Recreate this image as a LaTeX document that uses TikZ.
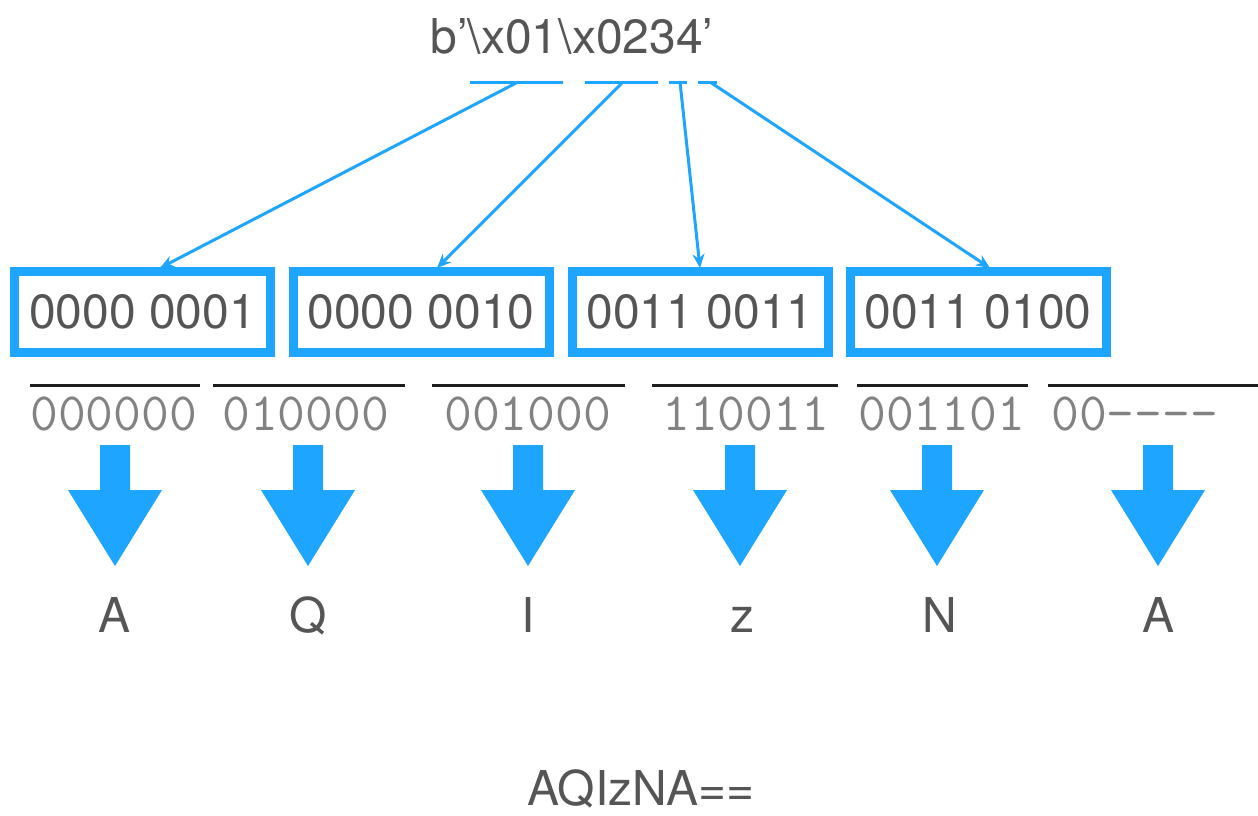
\documentclass[tikz,border=0pt]{standalone}
\usepackage{fontspec}
\setmainfont{TeX Gyre Heros}
\usetikzlibrary{arrows.meta}
\definecolor{bblue}{RGB}{30,165,255}
\definecolor{tgray}{RGB}{85,85,85}
\definecolor{mgray}{RGB}{130,130,130}
\definecolor{lblack}{RGB}{30,30,30}
\begin{document}
\begin{tikzpicture}[x=1pt,y=-1pt,
  lbl/.style={text=tgray,font=\fontsize{48}{54}\selectfont,inner sep=0pt},
  bytebox/.style={draw=bblue,line width=9pt,minimum width=256pt,minimum height=81pt,inner sep=0pt,text=tgray,font=\fontsize{48}{54}\selectfont},
  mono/.style={text=mgray,font=\ttfamily\fontsize{54}{60}\selectfont,inner sep=0pt,anchor=base west},
  seg/.style={draw=bblue,line width=3pt},
  link/.style={draw=bblue,line width=3pt,-{Stealth[length=14pt,width=12pt]}},
  over/.style={draw=lblack,line width=3pt},
  bigarrow/.style={fill=bblue}
]
\useasboundingbox (0,0) rectangle (1258,815);
% top text
\node[lbl] (src) at (572,36) {b’\textbackslash x01\textbackslash x0234’};
% underline segments
\coordinate (u1a) at (470,82); \coordinate (u1b) at (563,82);
\coordinate (u2a) at (585,82); \coordinate (u2b) at (658,82);
\coordinate (u3a) at (669,82); \coordinate (u3b) at (687,82);
\coordinate (u4a) at (698,82); \coordinate (u4b) at (717,82);
\draw[seg] (u1a) -- (u1b);
\draw[seg] (u2a) -- (u2b);
\draw[seg] (u3a) -- (u3b);
\draw[seg] (u4a) -- (u4b);
\coordinate (s1) at (518,82);
\coordinate (s2) at (623,82);
\coordinate (s3) at (680,82);
\coordinate (s4) at (710,82);
% boxes
\node[bytebox] (b1) at (142.5,312) {0000 0001};
\node[bytebox] (b2) at (421,312) {0000 0010};
\node[bytebox] (b3) at (700,312) {0011 0011};
\node[bytebox] (b4) at (978,312) {0011 0100};
\coordinate (t1) at (160,268);
\coordinate (t2) at (437,268);
\coordinate (t3) at (700,268);
\coordinate (t4) at (990,268);
\draw[link] (s1) -- (t1);
\draw[link] (s2) -- (t2);
\draw[link] (s3) -- (t3);
\draw[link] (s4) -- (t4);
% overlines
\draw[over] (30,385) -- (200,385);
\draw[over] (213,385) -- (405,385);
\draw[over] (432,385) -- (625,385);
\draw[over] (652,385) -- (838,385);
\draw[over] (857,385) -- (1028,385);
\draw[over] (1048,385) -- (1258,385);
% 6-bit groups
\node[mono] (g1) at (30,430) {000000};
\node[mono] (g2) at (222,430) {010000};
\node[mono] (g3) at (444,430) {001000};
\node[mono] (g4) at (662,430) {110011};
\node[mono] (g5) at (858,430) {001101};
\node[mono] (g6) at (1051,430) {00----};
% big arrows
\foreach \x in {115,308,528,740,937,1158}{
  \fill[bigarrow] (\x-15,445) -- (\x+15,445) -- (\x+15,490) -- (\x+47,490)
     -- (\x,566) -- (\x-47,490) -- (\x-15,490) -- cycle;
}
% letters
\node[lbl,anchor=base] (c1) at (115,632) {A};
\node[lbl,anchor=base] (c2) at (308,632) {Q};
\node[lbl,anchor=base] (c3) at (528,632) {I};
\node[lbl,anchor=base] (c4) at (742,632) {z};
\node[lbl,anchor=base] (c5) at (940,632) {N};
\node[lbl,anchor=base] (c6) at (1158,632) {A};
% result
\node[lbl,anchor=base] (res) at (641,805) {AQIzNA==};
\end{tikzpicture}
\end{document}
